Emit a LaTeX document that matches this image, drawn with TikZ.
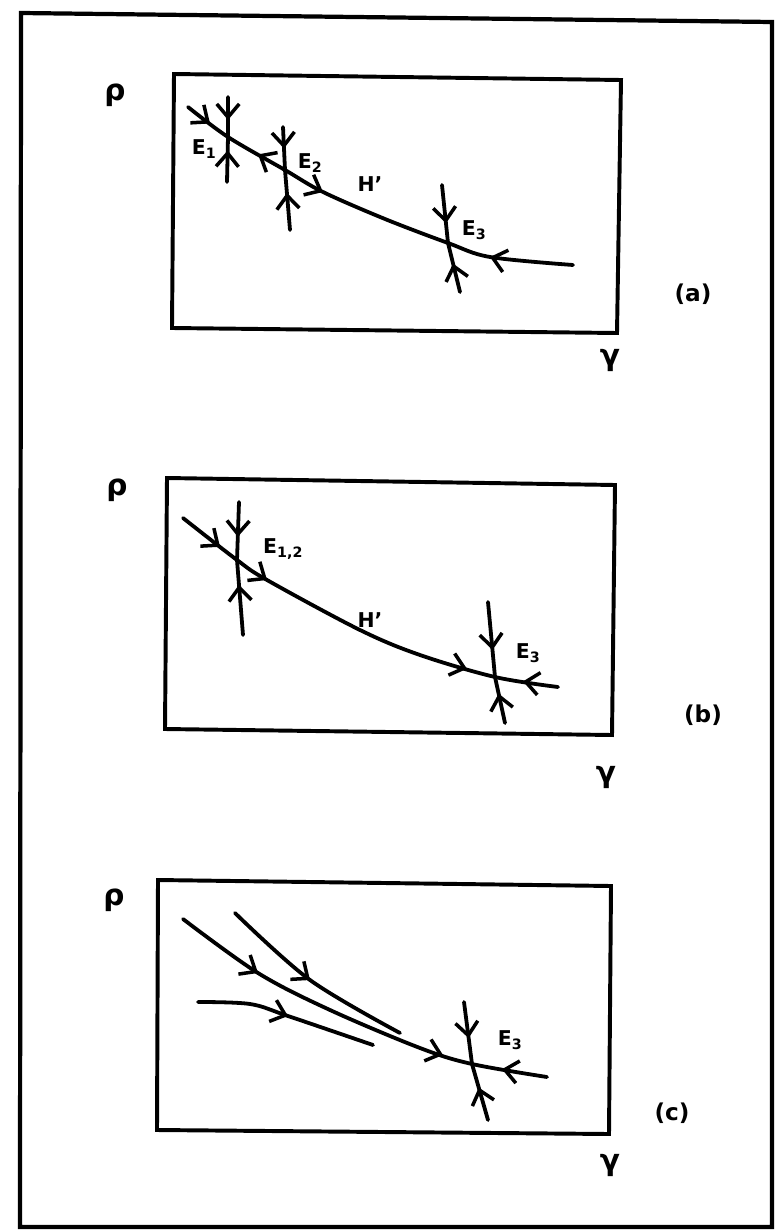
\documentclass[tikz,border=0pt]{standalone}
\usepackage{fontspec}
\setmainfont{DejaVu Sans}
\usetikzlibrary{arrows.meta}
\tikzset{
  ink/.style={line width=5.4pt, line cap=round, line join=round},
  frame/.style={line width=6pt, line join=miter},
  boxline/.style={line width=5.6pt, line join=miter},
  arrowtick/.style={line width=5pt, line cap=round, -{Straight Barb[length=19pt,width=32pt]}},
  lab/.style={font=\fontsize{29}{31}\selectfont\bfseries, inner sep=0pt},
  axlab/.style={font=\fontsize{42}{44}\selectfont\bfseries, inner sep=0pt},
  panlab/.style={font=\fontsize{33}{35}\selectfont\bfseries, inner sep=0pt},
}
\begin{document}
\begin{tikzpicture}[x=0.05cm,y=-0.05cm]
\useasboundingbox (0,0) rectangle (774,1230);
% outer frame
\draw[frame] (21,13) -- (772,22) -- (772,1227) -- (20,1227) -- cycle;

% ================= panel (a) =================
\draw[boxline] (174,74) -- (621,80) -- (617,333) -- (172,328) -- cycle;
\node[axlab] (a-rho) at (115,95) {ρ};
\node[axlab] (a-gam) at (610,360) {γ};
\node[panlab] (a-lab) at (693,294) {(a)};
\coordinate (a-s) at (188,107);
\coordinate (a-e1) at (228,137);
\coordinate (a-e2) at (285,170);
\coordinate (a-e3) at (448,243);
\coordinate (a-end) at (573,265);
\draw[ink] plot[smooth, tension=0.55] coordinates {(a-s) (a-e1) (a-e2) (323,192) (385,219) (a-e3) (490,257) (a-end)};
\draw[arrowtick] (206,120.5) -- (210,123.5);
\draw[arrowtick] (261.5,156.4) -- (258,154.4);
\draw[arrowtick] (319.4,190.2) -- (323,192);
\draw[arrowtick] (493.8,258) -- (490,257);
\coordinate (a-e1t) at (228,97);
\coordinate (a-e1b) at (227,182);
\draw[ink] (a-e1t) -- (a-e1) -- (a-e1b);
\draw[arrowtick] (228,116) -- (228,120);
\draw[arrowtick] (227.6,154.5) -- (227.7,150.5);
\coordinate (a-e2t) at (283,127);
\coordinate (a-e2b) at (290,230);
\draw[ink] (a-e2t) -- (a-e2) -- (a-e2b);
\draw[arrowtick] (283.8,144.5) -- (284,148.5);
\draw[arrowtick] (287.2,196.8) -- (286.9,192.8);
\coordinate (a-e3t) at (442,185);
\coordinate (a-e3b) at (460,292);
\draw[ink] (a-e3t) -- (a-e3) -- (a-e3b);
\draw[arrowtick] (445.6,219.3) -- (446,223.3);
\draw[arrowtick] (454,267.5) -- (453,263.6);
\node[lab] (a-l1) at (204,149) {E\textsubscript{1}};
\node[lab] (a-l2) at (310,163) {E\textsubscript{2}};
\node[lab] (a-lh) at (370,184) {H’};
\node[lab] (a-l3) at (474,230) {E\textsubscript{3}};

% ================= panel (b) =================
\draw[boxline] (167,478) -- (615,485) -- (612,735) -- (165,729) -- cycle;
\node[axlab] (b-rho) at (117,490) {ρ};
\node[axlab] (b-gam) at (606,777) {γ};
\node[panlab] (b-lab) at (703,715) {(b)};
\coordinate (b-s) at (183,518);
\coordinate (b-e12) at (237,560);
\coordinate (b-e3) at (495,677);
\coordinate (b-end) at (558,687);
\draw[ink] plot[smooth, tension=0.55] coordinates {(b-s) (b-e12) (267,580) (360,630) (420,655) (b-e3) (b-end)};
\draw[arrowtick] (216.8,544.4) -- (220,546.8);
\draw[arrowtick] (263.7,577.8) -- (267,580);
\draw[arrowtick] (463.2,667.7) -- (467,668.8);
\draw[arrowtick] (527,682) -- (523,681.4);
\coordinate (b-e12t) at (239,502);
\coordinate (b-e12b) at (243,635);
\draw[ink] (b-e12t) -- (b-e12) -- (b-e12b);
\draw[arrowtick] (237.9,532.8) -- (237.8,536.8);
\draw[arrowtick] (239.3,588.7) -- (239,584.7);
\coordinate (b-e3t) at (488,602);
\coordinate (b-e3b) at (505,723);
\draw[ink] (b-e3t) -- (b-e3) -- (b-e3b);
\draw[arrowtick] (492.1,646) -- (492.5,650);
\draw[arrowtick] (499.4,697.5) -- (498.6,693.6);
\node[lab] (b-l12) at (283,549) {E\textsubscript{1,2}};
\node[lab] (b-lh) at (370,620) {H’};
\node[lab] (b-l3) at (528,653) {E\textsubscript{3}};

% ================= panel (c) =================
\draw[boxline] (158,880) -- (611,886) -- (609,1134) -- (157,1130) -- cycle;
\node[axlab] (c-rho) at (114,900) {ρ};
\node[axlab] (c-gam) at (610,1165) {γ};
\node[panlab] (c-lab) at (672,1113) {(c)};
\coordinate (c-s1) at (183,919);
\coordinate (c-e3) at (472,1064);
\coordinate (c-end) at (547,1077);
\draw[ink] plot[smooth, tension=0.55] coordinates {(c-s1) (258,973) (330,1010) (420,1048) (c-e3) (c-end)};
\draw[arrowtick] (254.6,970.9) -- (258,973);
\draw[arrowtick] (439.2,1053.8) -- (443,1055);
\draw[arrowtick] (505.9,1069.9) -- (502,1069.2);
\coordinate (c-s2) at (235,913);
\coordinate (c-f2) at (400,1033);
\draw[ink] plot[smooth, tension=0.55] coordinates {(c-s2) (310,980) (c-f2)};
\draw[arrowtick] (306.8,977.6) -- (310,980);
\coordinate (c-s3) at (198,1002);
\coordinate (c-f3) at (373,1045);
\draw[ink] plot[smooth, tension=0.55] coordinates {(c-s3) (250,1004) (288,1016) (c-f3)};
\draw[arrowtick] (284.2,1014.7) -- (288,1016);
\coordinate (c-e3t) at (464,1002);
\coordinate (c-e3b) at (488,1120);
\draw[ink] (c-e3t) -- (c-e3) -- (c-e3b);
\draw[arrowtick] (468.1,1034.1) -- (468.6,1038.1);
\draw[arrowtick] (479.8,1091.3) -- (478.7,1087.5);
\node[lab] (c-l3) at (510,1040) {E\textsubscript{3}};
\end{tikzpicture}
\end{document}
